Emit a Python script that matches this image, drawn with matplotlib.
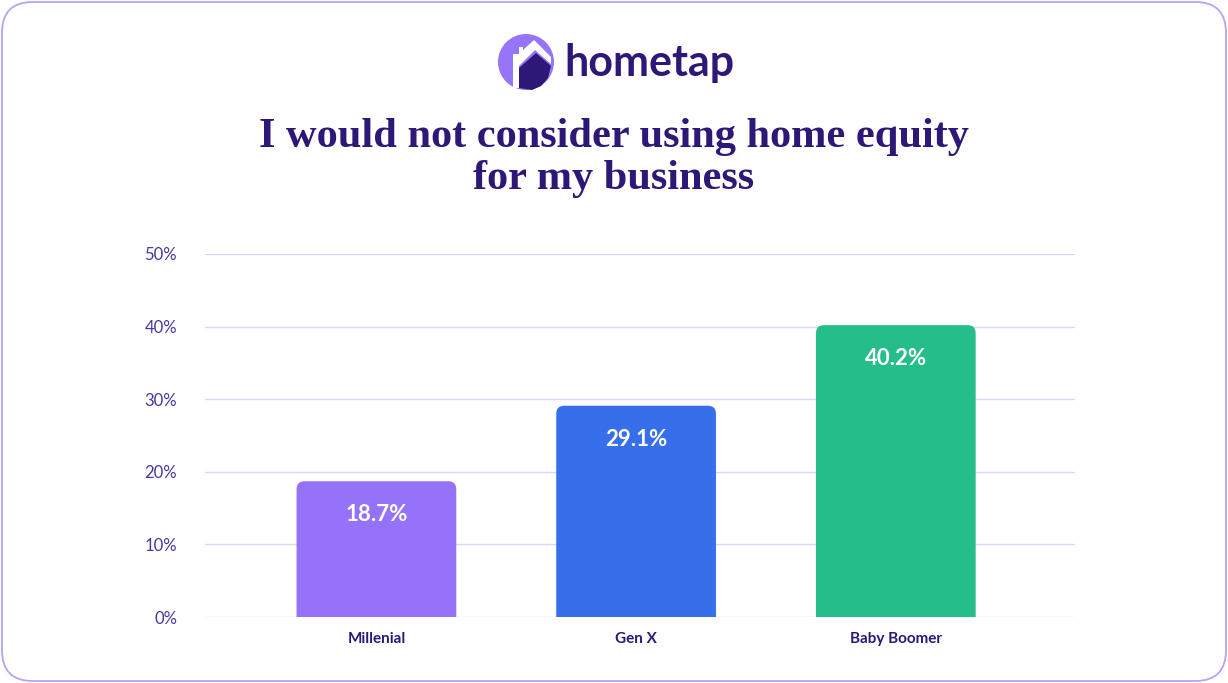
import matplotlib.pyplot as plt
from matplotlib.patches import FancyBboxPatch, PathPatch, Circle, Polygon
from matplotlib.path import Path

# data
categories = ["Millenial", "Gen X", "Baby Boomer"]
values = [18.7, 29.1, 40.2]
bar_colors = ["#9672FB", "#376FEB", "#25BE8A"]
y_ticks = [0, 10, 20, 30, 40, 50]
y_tick_labels = ["0%", "10%", "20%", "30%", "40%", "50%"]
title_lines = "I would not consider using home equity\nfor my business"

DARK = "#2D1878"
TICK = "#4A36A0"
GRID = "#DCD3FB"

fig = plt.figure(figsize=(12.28, 6.83), dpi=100)
W, H = 1228, 683

# outer rounded frame, kept behind everything
frame = FancyBboxPatch((2 / W, 2 / H), 1 - 4 / W, 1 - 4 / H,
                       boxstyle="round,pad=0,rounding_size=0.025",
                       mutation_aspect=W / H,
                       transform=fig.transFigure, facecolor="white",
                       edgecolor="#B7A3F4", linewidth=1.3, zorder=-5)
fig.patches.append(frame)

# axes placed in pixel space: x 205..1075, y 254..617 (0..50%)
ax = fig.add_axes([205 / W, (H - 617) / H, 870 / W, 363 / H])
ax.set_facecolor("none")
x = list(range(len(categories)))
ax.set_xlim(-0.66, 2.69)
ax.set_ylim(0, 50)


def top_rounded(x0, w, h, rx, ry):
    # bar outline with only the two top corners rounded
    verts = [(x0, 0), (x0, h - ry), (x0, h), (x0 + rx, h),
             (x0 + w - rx, h), (x0 + w, h), (x0 + w, h - ry),
             (x0 + w, 0), (x0, 0)]
    codes = [Path.MOVETO, Path.LINETO, Path.CURVE3, Path.CURVE3,
             Path.LINETO, Path.CURVE3, Path.CURVE3,
             Path.LINETO, Path.CLOSEPOLY]
    return Path(verts, codes)


bars = ax.bar(x, values, width=0.615, color=bar_colors, zorder=2)
rx = 8 / 260          # about 8 px in x units
ry = 8 / (363 / 50)   # about 8 px in y units
for b, c in zip(bars, bar_colors):
    b.set_visible(False)
    ax.add_patch(PathPatch(top_rounded(b.get_x(), b.get_width(),
                                       b.get_height(), rx, ry),
                           facecolor=c, edgecolor="none", zorder=2))

for xi, v in zip(x, values):
    ax.text(xi, v - 4.6, f"{v}%", ha="center", va="center", color="white",
            fontsize=16, fontweight="bold", family="Lato", zorder=3)

ax.set_yticks(y_ticks)
ax.set_yticklabels(y_tick_labels, color=TICK, fontsize=12, family="Lato")
ax.set_xticks(x)
ax.set_xticklabels(categories, color=DARK, fontsize=11, fontweight="bold",
                   family="Lato")
ax.tick_params(length=0)
ax.tick_params(axis="y", pad=20)
ax.tick_params(axis="x", pad=11)
ax.grid(axis="y", color=GRID, linewidth=1, zorder=0)
for s in ax.spines.values():
    s.set_visible(False)

# title
fig.text(0.5, 1 - 158 / H, title_lines, ha="center", va="center",
         fontsize=30.5, fontweight="bold", family="Liberation Serif",
         color=DARK, linespacing=1.15)

# logo: circle with a small house shape
lax = fig.add_axes([0, 0, 1, 1])
lax.set_xlim(0, W)
lax.set_ylim(H, 0)
lax.axis("off")
lax.add_patch(Circle((526, 62), 28, facecolor="#9775FA", edgecolor="none"))
lax.add_patch(Polygon([(513, 88), (513, 54), (519, 54), (519, 47),
                       (523, 47), (523, 50), (534, 40), (551, 57),
                       (551, 64), (535, 50), (519, 66), (519, 88)],
                      closed=True, facecolor="white", edgecolor="none"))
lax.add_patch(Polygon([(519, 88), (519, 68), (536, 53), (551, 66),
                       (548, 78), (541, 86), (532, 90)],
                      closed=True, facecolor="#2D1878", edgecolor="none"))
lax.text(564, 63, "hometap", ha="left", va="center", fontsize=31,
         fontweight="bold", family="Lato", color=DARK)

fig.savefig("out.png", dpi=100)
